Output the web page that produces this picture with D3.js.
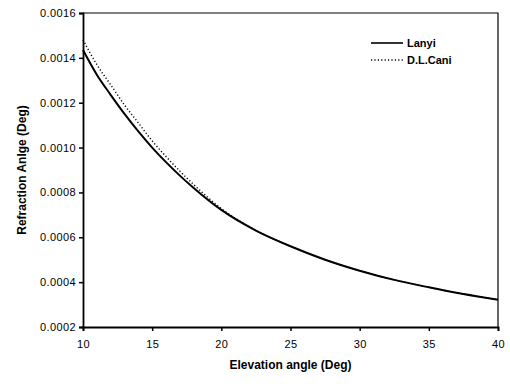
<!DOCTYPE html>
<html>
<head>
<meta charset="utf-8">
<script src="https://cdn.jsdelivr.net/npm/d3@7"></script>
<style>
  body { margin: 0; background: #fff; }
  svg text { font-family: Arial, "Liberation Sans", Helvetica, sans-serif; fill: #000; }
</style>
</head>
<body>
<div id="chart"></div>
<script>
// elevation angle (deg)
var angles = [10, 11, 12, 13, 14, 15, 16, 17, 18, 20, 22.5, 25, 27.5, 30, 32.5, 35, 37.5, 40];

// refraction angle (deg), Lanyi model
var lanyi = [0.001435, 0.001325, 0.001235, 0.001150, 0.001072, 0.001000, 0.000935, 0.000875,
             0.000820, 0.000722, 0.000630, 0.000560, 0.000500, 0.000451, 0.000410, 0.000377,
             0.000347, 0.000322];

// refraction angle (deg), D.L.Cani model
var cani = [0.001480, 0.001370, 0.001280, 0.001190, 0.001110, 0.001030, 0.000960, 0.000895,
            0.000835, 0.000728, 0.000631, 0.000560, 0.000500, 0.000451, 0.000410, 0.000377,
            0.000347, 0.000322];

var xTicks = [10, 15, 20, 25, 30, 35, 40];
var yTicks = [0.0002, 0.0004, 0.0006, 0.0008, 0.0010, 0.0012, 0.0014, 0.0016];

var seriesNames = ["Lanyi", "D.L.Cani"];

var W = 510, H = 386,
    margin = {top: 13, right: 12, bottom: 59, left: 83},
    width = W - margin.left - margin.right,
    height = H - margin.top - margin.bottom;

var svg = d3.select("#chart").append("svg")
    .attr("width", W)
    .attr("height", H);

var g = svg.append("g")
    .attr("transform", "translate(" + margin.left + "," + margin.top + ")");

// scales
var x = d3.scaleLinear().domain([10, 40]).range([0, width]);
var y = d3.scaleLinear().domain([0.0002, 0.0016]).range([height, 0]);

// frame (top and right)
g.append("path")
    .attr("d", "M0,0H" + width + "V" + height)
    .attr("fill", "none")
    .attr("stroke", "#000")
    .attr("stroke-width", 1.2);

// x axis
var xAxis = g.append("g")
    .attr("transform", "translate(0," + height + ")")
    .call(d3.axisBottom(x).tickValues(xTicks).tickSize(4).tickPadding(9).tickFormat(d3.format("d")));

// y axis
var yAxis = g.append("g")
    .call(d3.axisLeft(y).tickValues(yTicks).tickSize(4).tickPadding(3).tickFormat(d3.format(".4f")));

[xAxis, yAxis].forEach(function(a) {
    a.select(".domain").attr("stroke-width", 1.8).attr("stroke", "#000");
    a.selectAll(".tick line").attr("stroke-width", 1.5).attr("stroke", "#000");
    a.selectAll(".tick text")
        .style("font-size", "11px")
        .style("letter-spacing", "0.4px")
        .attr("fill", "#000");
});

// lines
var line = d3.line()
    .curve(d3.curveMonotoneX)
    .x(function(d) { return x(d[0]); })
    .y(function(d) { return y(d[1]); });

g.append("path")
    .datum(d3.zip(angles, cani))
    .attr("fill", "none")
    .attr("stroke", "#000")
    .attr("stroke-width", 1.4)
    .attr("stroke-dasharray", "1.2,2.2")
    .attr("d", line);

g.append("path")
    .datum(d3.zip(angles, lanyi))
    .attr("fill", "none")
    .attr("stroke", "#000")
    .attr("stroke-width", 2)
    .attr("d", line);

// legend
var legend = g.append("g")
    .attr("transform", "translate(" + (371 - margin.left) + "," + (43 - margin.top) + ")");

var styles = [{w: 1.6, dash: null}, {w: 1.3, dash: "1.2,2.2"}];
seriesNames.forEach(function(name, i) {
    var row = legend.append("g").attr("transform", "translate(0," + (i * 17) + ")");
    row.append("line")
        .attr("x1", 0).attr("x2", 32)
        .attr("y1", 0).attr("y2", 0)
        .attr("stroke", "#000")
        .attr("stroke-width", styles[i].w)
        .attr("stroke-dasharray", styles[i].dash);
    row.append("text")
        .attr("x", 36)
        .attr("y", 4)
        .style("font-size", "11px")
        .style("font-weight", "bold")
        .text(name);
});

// axis titles
svg.append("text")
    .attr("x", margin.left + width / 2)
    .attr("y", 369)
    .attr("text-anchor", "middle")
    .style("font-size", "12px")
    .style("font-weight", "bold")
    .text("Elevation angle (Deg)");

svg.append("text")
    .attr("transform", "translate(26," + (margin.top + height / 2) + ") rotate(-90)")
    .attr("text-anchor", "middle")
    .style("font-size", "12px")
    .style("font-weight", "bold")
    .text("Refraction Anlge (Deg)");
</script>
</body>
</html>
